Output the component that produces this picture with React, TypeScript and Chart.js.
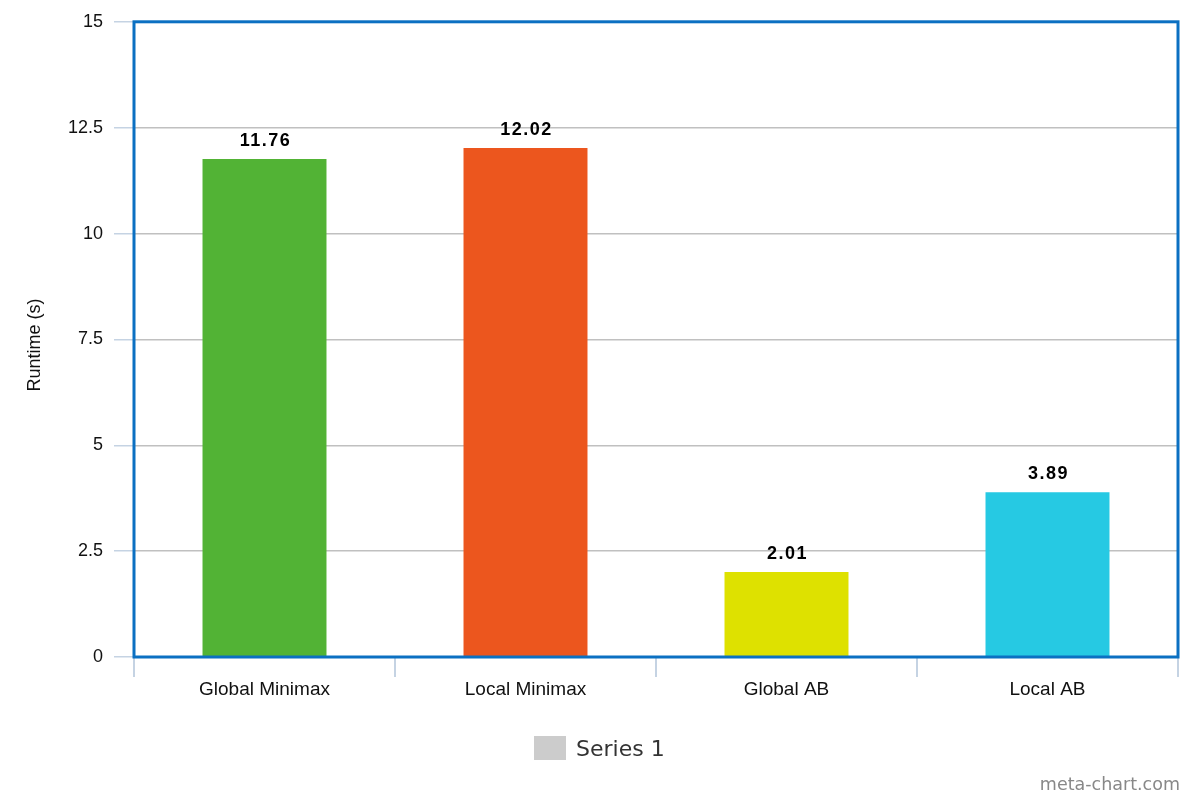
import React, { useEffect, useRef } from "react";
import { Chart, registerables } from "chart.js";

Chart.register(...registerables);

const categories = ["Global Minimax", "Local Minimax", "Global AB", "Local AB"];
const runtimes = [11.76, 12.02, 2.01, 3.89];
const barColors = ["#52b335", "#ec561e", "#dee100", "#26c9e3"];
const yTicks = [0, 2.5, 5, 7.5, 10, 12.5, 15];
const seriesName = "Series 1";
const axisTitle = "Runtime (s)";
const watermark = "meta-chart.com";

const extrasPlugin = {
  id: "extras",
  afterDatasetsDraw(chart: any) {
    const ctx = chart.ctx;
    const meta = chart.getDatasetMeta(0);
    ctx.save();
    ctx.font = "bold 18px 'Liberation Sans', Arial, sans-serif";
    (ctx as any).letterSpacing = "1.5px";
    ctx.fillStyle = "#000";
    ctx.textAlign = "center";
    ctx.textBaseline = "bottom";
    meta.data.forEach((bar: any, i: number) => {
      ctx.fillText(runtimes[i].toFixed(2), bar.x + 1, bar.y - 9);
    });
    ctx.restore();
  },
  afterDraw(chart: any) {
    const ctx = chart.ctx;
    const a = chart.chartArea;
    ctx.save();
    // plot border
    ctx.strokeStyle = "#0b70c2";
    ctx.lineWidth = 3;
    ctx.strokeRect(a.left, a.top, a.right - a.left, a.bottom - a.top);
    // axis title
    ctx.save();
    ctx.translate(35, 345);
    ctx.rotate(-Math.PI / 2);
    ctx.fillStyle = "#111";
    ctx.font = "18px 'Liberation Sans', Arial, sans-serif";
    ctx.textAlign = "center";
    ctx.textBaseline = "middle";
    ctx.fillText(axisTitle, 0, 0);
    ctx.restore();
    // legend
    ctx.fillStyle = "#cccccc";
    ctx.fillRect(534, 736, 32, 24);
    ctx.fillStyle = "#333333";
    ctx.font = "22px 'DejaVu Sans', Verdana, sans-serif";
    ctx.textAlign = "left";
    ctx.textBaseline = "middle";
    ctx.fillText(seriesName, 576, 750);
    // watermark
    ctx.fillStyle = "#888888";
    ctx.font = "17.5px 'DejaVu Sans', Verdana, sans-serif";
    ctx.textAlign = "right";
    ctx.fillText(watermark, 1180, 785);
    ctx.restore();
  },
};

export default function App() {
  const ref = useRef<HTMLCanvasElement | null>(null);
  useEffect(() => {
    if (!ref.current) return;
    const chart = new Chart(ref.current, {
      type: "bar",
      data: {
        labels: categories,
        datasets: [
          {
            label: seriesName,
            data: runtimes,
            backgroundColor: barColors,
            borderWidth: 0,
            categoryPercentage: 1,
            barPercentage: 0.475,
          },
        ],
      },
      options: {
        animation: false,
        responsive: false,
        maintainAspectRatio: false,
        layout: { padding: { top: 19, right: 22, left: 0, bottom: 0 } },
        plugins: {
          legend: { display: false },
          tooltip: { enabled: false },
        },
        scales: {
          x: {
            border: { display: false },
            grid: {
              display: true,
              drawOnChartArea: false,
              drawTicks: true,
              tickLength: 20,
              tickColor: "#c5d3e3",
              lineWidth: 2,
              offset: true,
            },
            ticks: {
              color: "#111",
              font: { family: "'Liberation Sans', Arial, sans-serif", size: 19 },
              padding: 1,
              maxRotation: 0,
            },
            afterFit(scale: any) {
              scale.height = 800 - 657;
            },
          },
          y: {
            min: 0,
            max: 15,
            border: { display: false },
            afterBuildTicks(scale: any) {
              scale.ticks = yTicks.map((v) => ({ value: v }));
            },
            grid: {
              color: "#c0c0c0",
              lineWidth: 1.5,
              tickColor: "#c5d3e3",
              tickLength: 20,
            },
            ticks: {
              color: "#111",
              font: { family: "'Liberation Sans', Arial, sans-serif", size: 18 },
              padding: 11,
              callback: (v: any) => String(v),
            },
            afterFit(scale: any) {
              scale.width = 134;
            },
          },
        },
      },
      plugins: [extrasPlugin],
    });
    return () => chart.destroy();
  }, []);
  return (
    <div style={{ position: "fixed", left: 0, top: 0, width: 1200, height: 800, background: "#fff" }}>
      <canvas ref={ref} width={1200} height={800} style={{ width: 1200, height: 800 }} />
    </div>
  );
}
